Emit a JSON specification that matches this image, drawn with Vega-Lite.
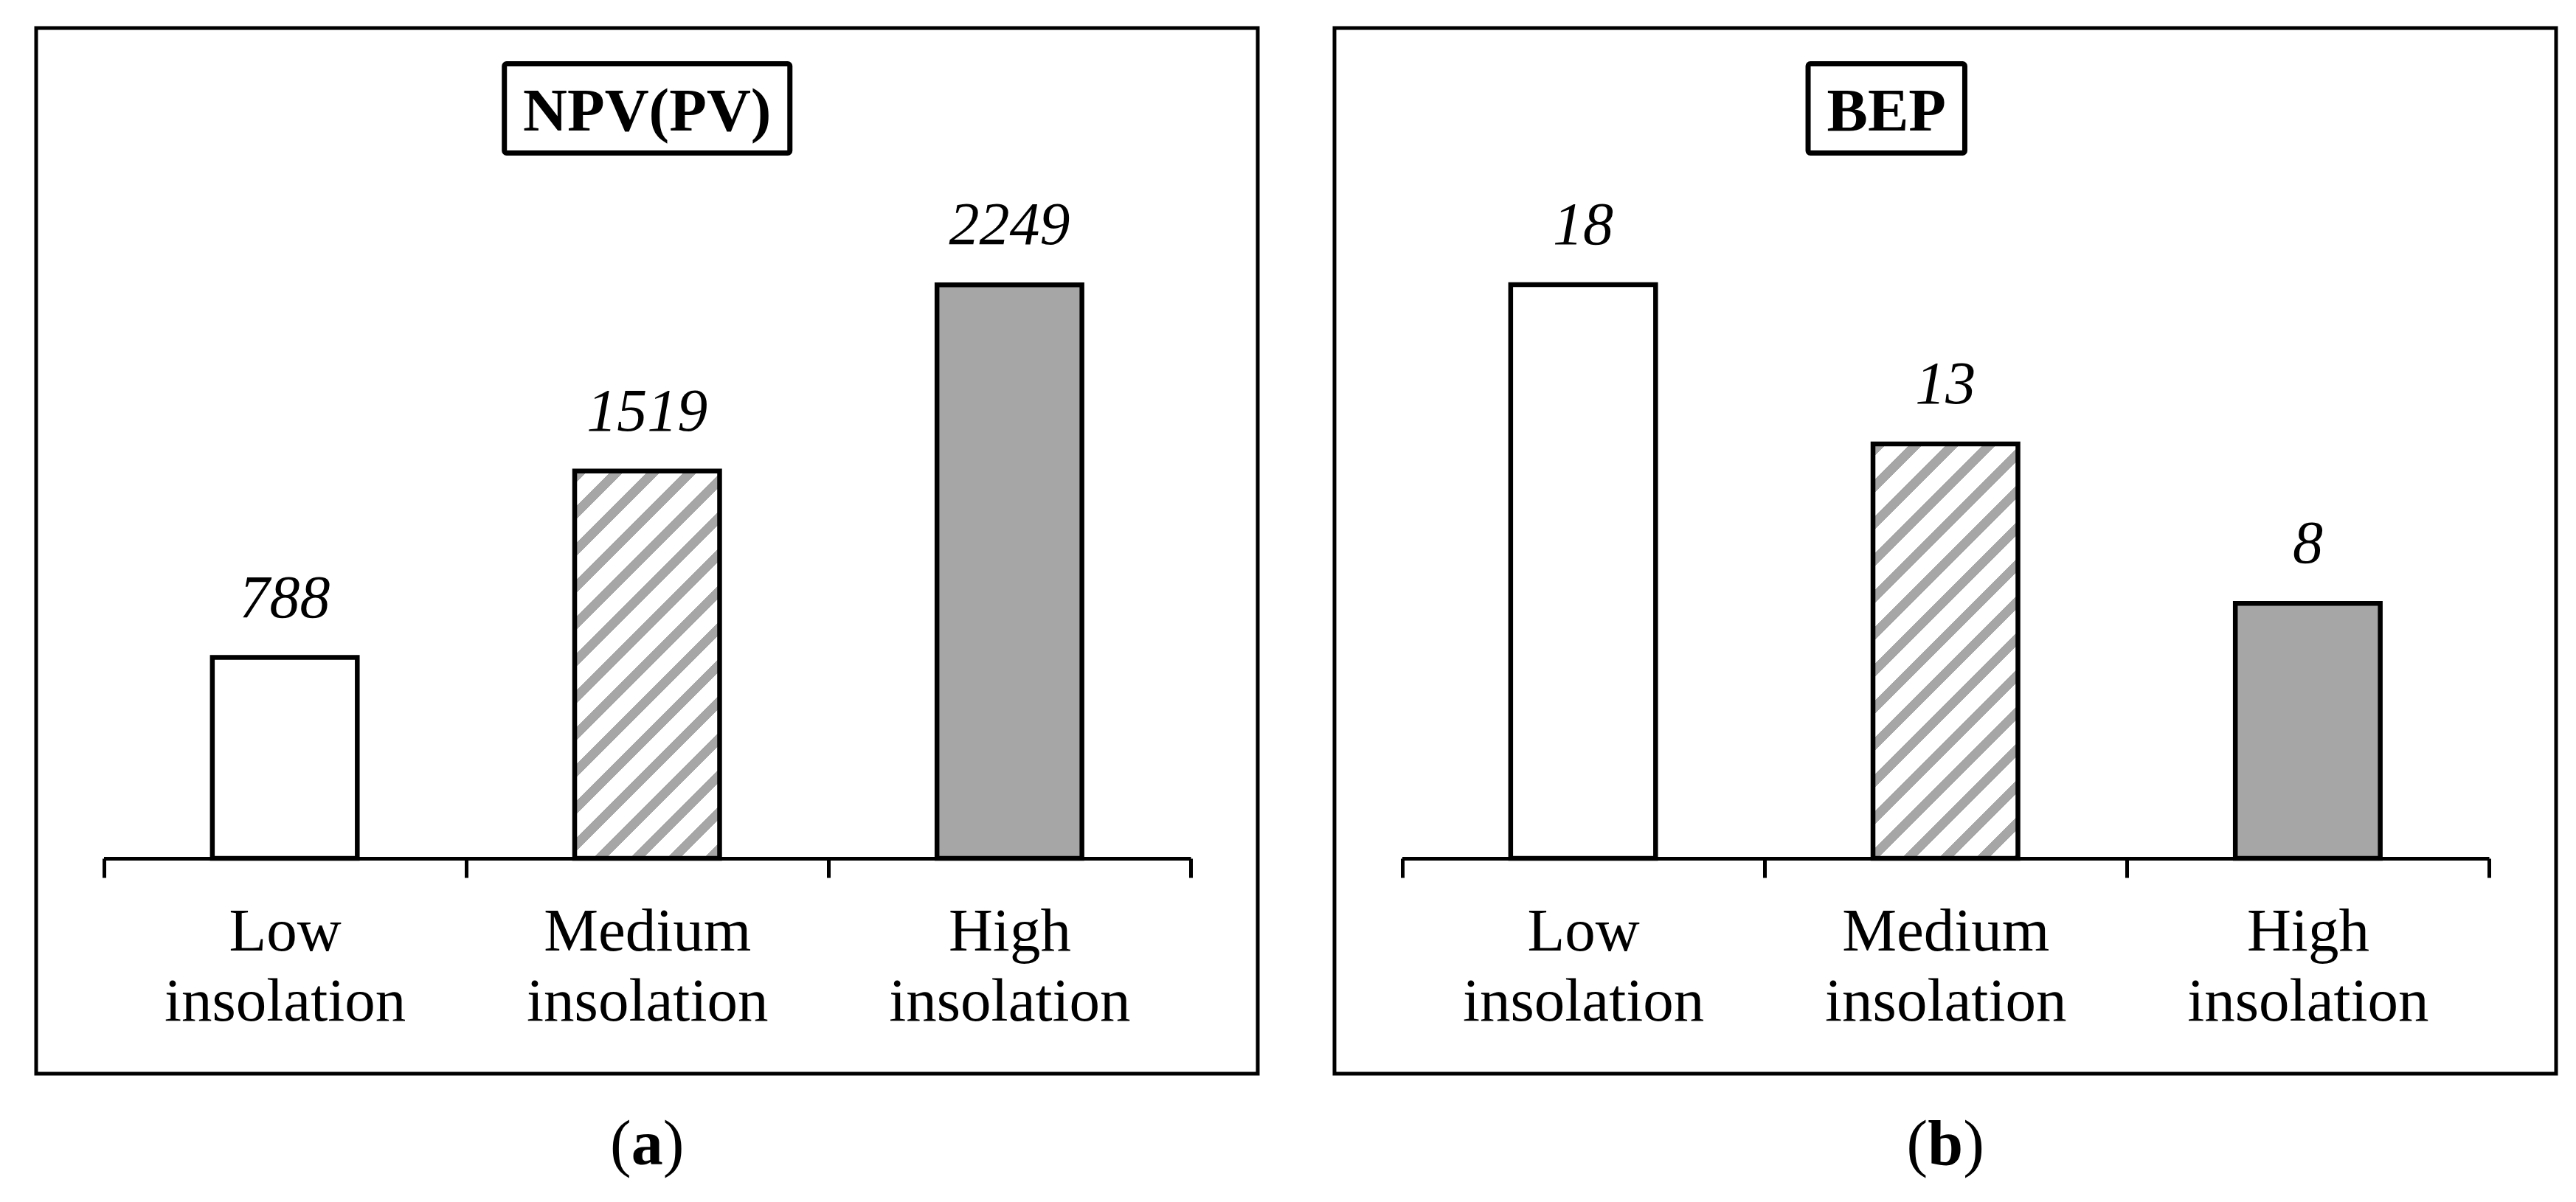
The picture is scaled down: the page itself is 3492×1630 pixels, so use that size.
{
  "$schema": "https://vega.github.io/schema/vega-lite/v6.json",
  "background": "white",
  "padding": {"left": 46, "top": 35, "right": 0, "bottom": 0},
  "config": {"view": {"stroke": "black", "strokeWidth": 5}},
  "spacing": 98,
  "hconcat": [
    {
      "width": 1656,
      "height": 1418,
      "data": {"values": [
        {"insolation": "Low insolation", "value": 788},
        {"insolation": "Medium insolation", "value": 1519},
        {"insolation": "High insolation", "value": 2249}
      ]},
      "encoding": {
        "x": {
          "field": "insolation", "type": "nominal",
          "scale": {"domain": ["Low insolation", "Medium insolation", "High insolation"], "range": [91.5, 1565], "paddingInner": 0, "paddingOuter": 0},
          "axis": {"title": null, "orient": "bottom", "offset": -292, "labelAngle": 0, "domainColor": "black", "domainWidth": 5, "tickColor": "black", "tickWidth": 5, "tickSize": 26, "tickBand": "extent", "labelFont": "Liberation Serif", "labelFontSize": 83, "labelColor": "black", "labelPadding": 32, "labelLineHeight": 95, "labelLimit": 800, "labelExpr": "split(datum.label, ' ')", "labelOverlap": false, "labelFlush": false, "grid": false}
        }
      },
      "layer": [
        {
          "mark": {"type": "bar", "width": {"band": 0.4}, "stroke": "black", "strokeWidth": 6.5},
          "encoding": {
            "y": {"field": "value", "type": "quantitative", "scale": {"domain": [0, 2500], "range": [1126, 261.5], "nice": false, "zero": false}, "axis": null},
            "fill": {
              "condition": {"test": "datum.insolation === 'Medium insolation'", "value": {"gradient": "linear", "x1": 0, "y1": 0, "x2": 0.4998, "y2": 1.336, "stops": [
                {"offset": 0, "color": "#a6a6a6"}, {"offset": 0.0225, "color": "#a6a6a6"}, {"offset": 0.0225, "color": "#ffffff"}, {"offset": 0.0625, "color": "#ffffff"},
                {"offset": 0.0625, "color": "#a6a6a6"}, {"offset": 0.085, "color": "#a6a6a6"}, {"offset": 0.085, "color": "#ffffff"}, {"offset": 0.125, "color": "#ffffff"},
                {"offset": 0.125, "color": "#a6a6a6"}, {"offset": 0.1475, "color": "#a6a6a6"}, {"offset": 0.1475, "color": "#ffffff"}, {"offset": 0.1875, "color": "#ffffff"},
                {"offset": 0.1875, "color": "#a6a6a6"}, {"offset": 0.21, "color": "#a6a6a6"}, {"offset": 0.21, "color": "#ffffff"}, {"offset": 0.25, "color": "#ffffff"},
                {"offset": 0.25, "color": "#a6a6a6"}, {"offset": 0.2725, "color": "#a6a6a6"}, {"offset": 0.2725, "color": "#ffffff"}, {"offset": 0.3125, "color": "#ffffff"},
                {"offset": 0.3125, "color": "#a6a6a6"}, {"offset": 0.335, "color": "#a6a6a6"}, {"offset": 0.335, "color": "#ffffff"}, {"offset": 0.375, "color": "#ffffff"},
                {"offset": 0.375, "color": "#a6a6a6"}, {"offset": 0.3975, "color": "#a6a6a6"}, {"offset": 0.3975, "color": "#ffffff"}, {"offset": 0.4375, "color": "#ffffff"},
                {"offset": 0.4375, "color": "#a6a6a6"}, {"offset": 0.46, "color": "#a6a6a6"}, {"offset": 0.46, "color": "#ffffff"}, {"offset": 0.5, "color": "#ffffff"},
                {"offset": 0.5, "color": "#a6a6a6"}, {"offset": 0.5225, "color": "#a6a6a6"}, {"offset": 0.5225, "color": "#ffffff"}, {"offset": 0.5625, "color": "#ffffff"},
                {"offset": 0.5625, "color": "#a6a6a6"}, {"offset": 0.585, "color": "#a6a6a6"}, {"offset": 0.585, "color": "#ffffff"}, {"offset": 0.625, "color": "#ffffff"},
                {"offset": 0.625, "color": "#a6a6a6"}, {"offset": 0.6475, "color": "#a6a6a6"}, {"offset": 0.6475, "color": "#ffffff"}, {"offset": 0.6875, "color": "#ffffff"},
                {"offset": 0.6875, "color": "#a6a6a6"}, {"offset": 0.71, "color": "#a6a6a6"}, {"offset": 0.71, "color": "#ffffff"}, {"offset": 0.75, "color": "#ffffff"},
                {"offset": 0.75, "color": "#a6a6a6"}, {"offset": 0.7725, "color": "#a6a6a6"}, {"offset": 0.7725, "color": "#ffffff"}, {"offset": 0.8125, "color": "#ffffff"},
                {"offset": 0.8125, "color": "#a6a6a6"}, {"offset": 0.835, "color": "#a6a6a6"}, {"offset": 0.835, "color": "#ffffff"}, {"offset": 0.875, "color": "#ffffff"},
                {"offset": 0.875, "color": "#a6a6a6"}, {"offset": 0.8975, "color": "#a6a6a6"}, {"offset": 0.8975, "color": "#ffffff"}, {"offset": 0.9375, "color": "#ffffff"},
                {"offset": 0.9375, "color": "#a6a6a6"}, {"offset": 0.96, "color": "#a6a6a6"}, {"offset": 0.96, "color": "#ffffff"}, {"offset": 1, "color": "#ffffff"}
              ]}},
              "field": "insolation", "type": "nominal",
              "scale": {"domain": ["Low insolation", "Medium insolation", "High insolation"], "range": ["#ffffff", "#ffffff", "#a6a6a6"]},
              "legend": null
            }
          }
        },
        {
          "mark": {"type": "text", "dy": -55, "baseline": "alphabetic", "align": "center", "font": "Liberation Serif", "fontStyle": "italic", "fontSize": 82, "color": "black"},
          "encoding": {
            "y": {"field": "value", "type": "quantitative"},
            "text": {"field": "value", "type": "quantitative", "format": "d"}
          }
        },
        {
          "data": {"values": [{"title": "NPV(PV)"}]},
          "mark": {"type": "bar", "width": {"band": 0.788}, "fill": "white", "stroke": "black", "strokeWidth": 7, "cornerRadius": 3},
          "encoding": {"x": {"datum": "Medium insolation"}, "y": {"datum": 3116}, "y2": {"datum": 2766}}
        },
        {
          "data": {"values": [{"title": "NPV(PV)"}]},
          "mark": {"type": "text", "baseline": "alphabetic", "align": "center", "font": "Liberation Serif", "fontWeight": "bold", "fontSize": 83, "color": "black"},
          "encoding": {"x": {"datum": "Medium insolation"}, "y": {"datum": 2854}, "text": {"field": "title"}}
        },
        {
          "data": {"values": [{"open": "(", "letter": "a", "close": ")"}]},
          "mark": {"type": "text", "baseline": "alphabetic", "align": "right", "dx": -21.5, "font": "Liberation Serif", "fontSize": 86, "color": "black"},
          "encoding": {"x": {"datum": "Medium insolation"}, "y": {"datum": -1200}, "text": {"field": "open"}}
        },
        {
          "data": {"values": [{"open": "(", "letter": "a", "close": ")"}]},
          "mark": {"type": "text", "baseline": "alphabetic", "align": "center", "font": "Liberation Serif", "fontWeight": "bold", "fontSize": 86, "color": "black"},
          "encoding": {"x": {"datum": "Medium insolation"}, "y": {"datum": -1200}, "text": {"field": "letter"}}
        },
        {
          "data": {"values": [{"open": "(", "letter": "a", "close": ")"}]},
          "mark": {"type": "text", "baseline": "alphabetic", "align": "left", "dx": 21.5, "font": "Liberation Serif", "fontSize": 86, "color": "black"},
          "encoding": {"x": {"datum": "Medium insolation"}, "y": {"datum": -1200}, "text": {"field": "close"}}
        }
      ]
    },
    {
      "width": 1656,
      "height": 1418,
      "data": {"values": [
        {"insolation": "Low insolation", "value": 18},
        {"insolation": "Medium insolation", "value": 13},
        {"insolation": "High insolation", "value": 8}
      ]},
      "encoding": {
        "x": {
          "field": "insolation", "type": "nominal",
          "scale": {"domain": ["Low insolation", "Medium insolation", "High insolation"], "range": [91.5, 1565], "paddingInner": 0, "paddingOuter": 0},
          "axis": {"title": null, "orient": "bottom", "offset": -292, "labelAngle": 0, "domainColor": "black", "domainWidth": 5, "tickColor": "black", "tickWidth": 5, "tickSize": 26, "tickBand": "extent", "labelFont": "Liberation Serif", "labelFontSize": 83, "labelColor": "black", "labelPadding": 32, "labelLineHeight": 95, "labelLimit": 800, "labelExpr": "split(datum.label, ' ')", "labelOverlap": false, "labelFlush": false, "grid": false}
        }
      },
      "layer": [
        {
          "mark": {"type": "bar", "width": {"band": 0.4}, "stroke": "black", "strokeWidth": 6.5},
          "encoding": {
            "y": {"field": "value", "type": "quantitative", "scale": {"domain": [0, 20], "range": [1126, 261.5], "nice": false, "zero": false}, "axis": null},
            "fill": {
              "condition": {"test": "datum.insolation === 'Medium insolation'", "value": {"gradient": "linear", "x1": 0, "y1": 0, "x2": 0.4436, "y2": 1.2686, "stops": [
                {"offset": 0, "color": "#a6a6a6"}, {"offset": 0.0225, "color": "#a6a6a6"}, {"offset": 0.0225, "color": "#ffffff"}, {"offset": 0.0625, "color": "#ffffff"},
                {"offset": 0.0625, "color": "#a6a6a6"}, {"offset": 0.085, "color": "#a6a6a6"}, {"offset": 0.085, "color": "#ffffff"}, {"offset": 0.125, "color": "#ffffff"},
                {"offset": 0.125, "color": "#a6a6a6"}, {"offset": 0.1475, "color": "#a6a6a6"}, {"offset": 0.1475, "color": "#ffffff"}, {"offset": 0.1875, "color": "#ffffff"},
                {"offset": 0.1875, "color": "#a6a6a6"}, {"offset": 0.21, "color": "#a6a6a6"}, {"offset": 0.21, "color": "#ffffff"}, {"offset": 0.25, "color": "#ffffff"},
                {"offset": 0.25, "color": "#a6a6a6"}, {"offset": 0.2725, "color": "#a6a6a6"}, {"offset": 0.2725, "color": "#ffffff"}, {"offset": 0.3125, "color": "#ffffff"},
                {"offset": 0.3125, "color": "#a6a6a6"}, {"offset": 0.335, "color": "#a6a6a6"}, {"offset": 0.335, "color": "#ffffff"}, {"offset": 0.375, "color": "#ffffff"},
                {"offset": 0.375, "color": "#a6a6a6"}, {"offset": 0.3975, "color": "#a6a6a6"}, {"offset": 0.3975, "color": "#ffffff"}, {"offset": 0.4375, "color": "#ffffff"},
                {"offset": 0.4375, "color": "#a6a6a6"}, {"offset": 0.46, "color": "#a6a6a6"}, {"offset": 0.46, "color": "#ffffff"}, {"offset": 0.5, "color": "#ffffff"},
                {"offset": 0.5, "color": "#a6a6a6"}, {"offset": 0.5225, "color": "#a6a6a6"}, {"offset": 0.5225, "color": "#ffffff"}, {"offset": 0.5625, "color": "#ffffff"},
                {"offset": 0.5625, "color": "#a6a6a6"}, {"offset": 0.585, "color": "#a6a6a6"}, {"offset": 0.585, "color": "#ffffff"}, {"offset": 0.625, "color": "#ffffff"},
                {"offset": 0.625, "color": "#a6a6a6"}, {"offset": 0.6475, "color": "#a6a6a6"}, {"offset": 0.6475, "color": "#ffffff"}, {"offset": 0.6875, "color": "#ffffff"},
                {"offset": 0.6875, "color": "#a6a6a6"}, {"offset": 0.71, "color": "#a6a6a6"}, {"offset": 0.71, "color": "#ffffff"}, {"offset": 0.75, "color": "#ffffff"},
                {"offset": 0.75, "color": "#a6a6a6"}, {"offset": 0.7725, "color": "#a6a6a6"}, {"offset": 0.7725, "color": "#ffffff"}, {"offset": 0.8125, "color": "#ffffff"},
                {"offset": 0.8125, "color": "#a6a6a6"}, {"offset": 0.835, "color": "#a6a6a6"}, {"offset": 0.835, "color": "#ffffff"}, {"offset": 0.875, "color": "#ffffff"},
                {"offset": 0.875, "color": "#a6a6a6"}, {"offset": 0.8975, "color": "#a6a6a6"}, {"offset": 0.8975, "color": "#ffffff"}, {"offset": 0.9375, "color": "#ffffff"},
                {"offset": 0.9375, "color": "#a6a6a6"}, {"offset": 0.96, "color": "#a6a6a6"}, {"offset": 0.96, "color": "#ffffff"}, {"offset": 1, "color": "#ffffff"}
              ]}},
              "field": "insolation", "type": "nominal",
              "scale": {"domain": ["Low insolation", "Medium insolation", "High insolation"], "range": ["#ffffff", "#ffffff", "#a6a6a6"]},
              "legend": null
            }
          }
        },
        {
          "mark": {"type": "text", "dy": -55, "baseline": "alphabetic", "align": "center", "font": "Liberation Serif", "fontStyle": "italic", "fontSize": 82, "color": "black"},
          "encoding": {
            "y": {"field": "value", "type": "quantitative"},
            "text": {"field": "value", "type": "quantitative", "format": "d"}
          }
        },
        {
          "data": {"values": [{"title": "BEP"}]},
          "mark": {"type": "bar", "width": {"band": 0.4325}, "xOffset": -80, "fill": "white", "stroke": "black", "strokeWidth": 7, "cornerRadius": 3},
          "encoding": {"x": {"datum": "Medium insolation"}, "y": {"datum": 24.928}, "y2": {"datum": 22.129}}
        },
        {
          "data": {"values": [{"title": "BEP"}]},
          "mark": {"type": "text", "dx": -80, "baseline": "alphabetic", "align": "center", "font": "Liberation Serif", "fontWeight": "bold", "fontSize": 83, "color": "black"},
          "encoding": {"x": {"datum": "Medium insolation"}, "y": {"datum": 22.835}, "text": {"field": "title"}}
        },
        {
          "data": {"values": [{"open": "(", "letter": "b", "close": ")"}]},
          "mark": {"type": "text", "baseline": "alphabetic", "align": "right", "dx": -24, "font": "Liberation Serif", "fontSize": 86, "color": "black"},
          "encoding": {"x": {"datum": "Medium insolation"}, "y": {"datum": -9.601}, "text": {"field": "open"}}
        },
        {
          "data": {"values": [{"open": "(", "letter": "b", "close": ")"}]},
          "mark": {"type": "text", "baseline": "alphabetic", "align": "center", "font": "Liberation Serif", "fontWeight": "bold", "fontSize": 86, "color": "black"},
          "encoding": {"x": {"datum": "Medium insolation"}, "y": {"datum": -9.601}, "text": {"field": "letter"}}
        },
        {
          "data": {"values": [{"open": "(", "letter": "b", "close": ")"}]},
          "mark": {"type": "text", "baseline": "alphabetic", "align": "left", "dx": 24, "font": "Liberation Serif", "fontSize": 86, "color": "black"},
          "encoding": {"x": {"datum": "Medium insolation"}, "y": {"datum": -9.601}, "text": {"field": "close"}}
        }
      ]
    }
  ]
}
